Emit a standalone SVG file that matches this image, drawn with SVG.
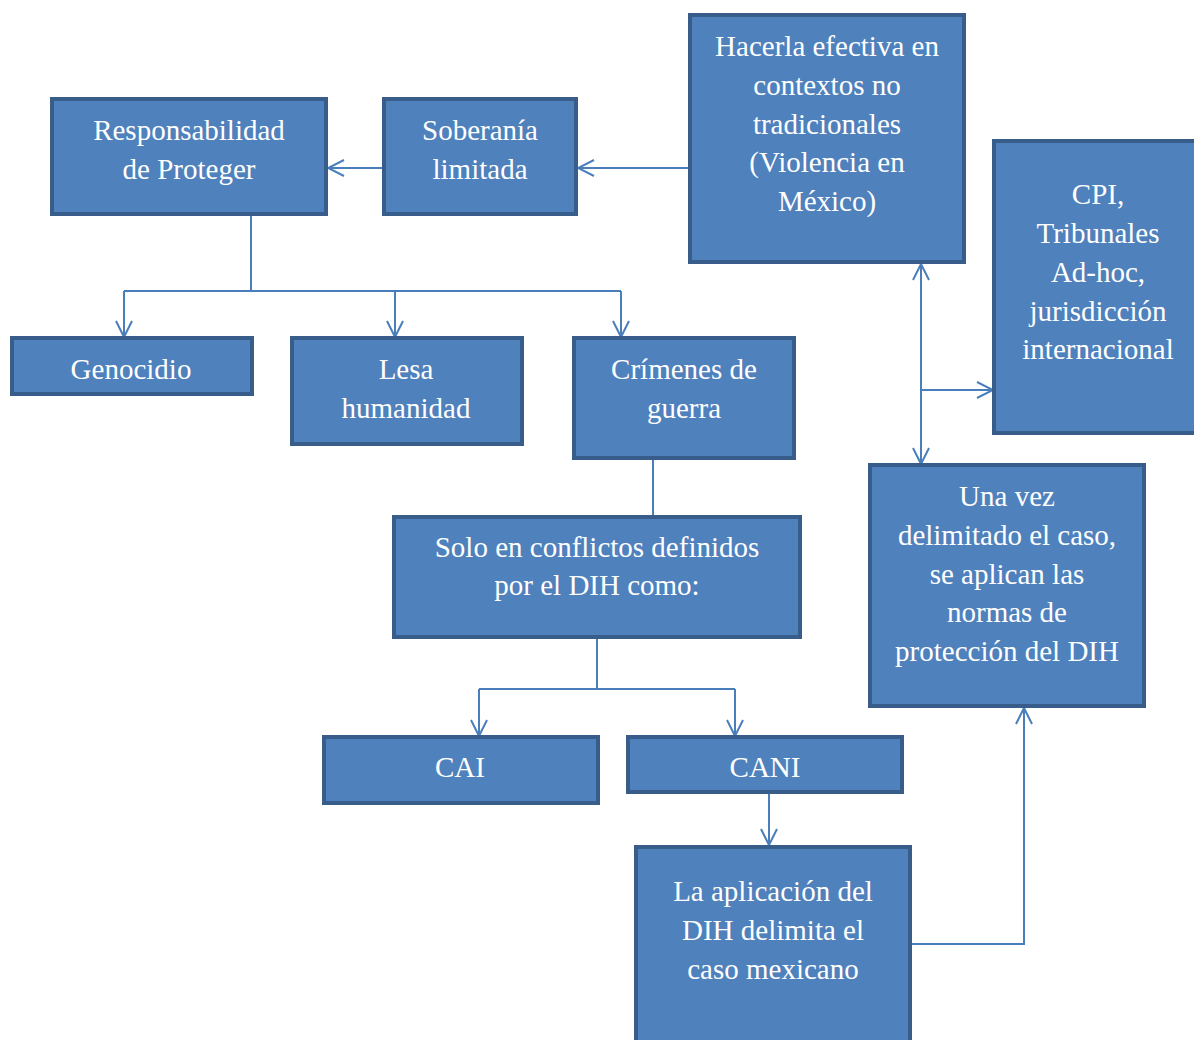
<svg xmlns="http://www.w3.org/2000/svg" width="1194" height="1040" viewBox="0 0 1194 1040">
<style>
.box{fill:#4f81bd;stroke:#385d8a;stroke-width:4;}
.t{font-family:"Liberation Serif","Times New Roman",serif;font-size:29px;fill:#ffffff;text-anchor:middle;}
.c{fill:none;stroke:#4a7ebb;stroke-width:2;}
</style>
<defs>
<marker id="a" viewBox="0 0 20 20" refX="18" refY="10" markerWidth="20" markerHeight="20" markerUnits="userSpaceOnUse" orient="auto-start-reverse">
<path d="M2,2 L18,10 L2,18" fill="none" stroke="#4a7ebb" stroke-width="2"/>
</marker>
</defs>
<rect width="1194" height="1040" fill="#ffffff"/>
<g id="connectors">
<line class="c" x1="384" y1="168" x2="328" y2="168" marker-end="url(#a)"/>
<line class="c" x1="690" y1="168" x2="578" y2="168" marker-end="url(#a)"/>
<polyline class="c" points="251,214 251,291"/>
<line class="c" x1="124" y1="291" x2="621" y2="291"/>
<line class="c" x1="124" y1="291" x2="124" y2="337" marker-end="url(#a)"/>
<line class="c" x1="395" y1="291" x2="395" y2="337" marker-end="url(#a)"/>
<line class="c" x1="621" y1="291" x2="621" y2="337" marker-end="url(#a)"/>
<line class="c" x1="653" y1="460" x2="653" y2="515"/>
<line class="c" x1="597" y1="637" x2="597" y2="689"/>
<line class="c" x1="479" y1="689" x2="735" y2="689"/>
<line class="c" x1="479" y1="689" x2="479" y2="736" marker-end="url(#a)"/>
<line class="c" x1="735" y1="689" x2="735" y2="736" marker-end="url(#a)"/>
<line class="c" x1="769" y1="794" x2="769" y2="845" marker-end="url(#a)"/>
<polyline class="c" points="910,944 1024,944 1024,708" marker-end="url(#a)"/>
<line class="c" x1="921" y1="264" x2="921" y2="464" marker-start="url(#a)" marker-end="url(#a)"/>
<line class="c" x1="921" y1="390" x2="993" y2="390" marker-end="url(#a)"/>
</g>
<g id="n1"><rect class="box" x="52" y="99" width="274" height="115"/>
<text class="t" x="189" y="140">Responsabilidad</text><text class="t" x="189" y="179">de Proteger</text></g>
<g id="n2"><rect class="box" x="384" y="99" width="192" height="115"/>
<text class="t" x="480" y="140">Soberanía</text><text class="t" x="480" y="179">limitada</text></g>
<g id="n3"><rect class="box" x="690" y="15" width="274" height="247"/>
<text class="t" x="827" y="56">Hacerla efectiva en</text><text class="t" x="827" y="95">contextos no</text><text class="t" x="827" y="134">tradicionales</text><text class="t" x="827" y="172">(Violencia en</text><text class="t" x="827" y="211">México)</text></g>
<g id="n4"><rect class="box" x="994" y="141" width="210" height="292"/>
<text class="t" x="1098" y="204">CPI,</text><text class="t" x="1098" y="243">Tribunales</text><text class="t" x="1098" y="282">Ad-hoc,</text><text class="t" x="1098" y="321">jurisdicción</text><text class="t" x="1098" y="359">internacional</text></g>
<g id="n5"><rect class="box" x="12" y="338" width="240" height="56"/>
<text class="t" x="131" y="379">Genocidio</text></g>
<g id="n6"><rect class="box" x="292" y="338" width="230" height="106"/>
<text class="t" x="406" y="379">Lesa</text><text class="t" x="406" y="418">humanidad</text></g>
<g id="n7"><rect class="box" x="574" y="338" width="220" height="120"/>
<text class="t" x="684" y="379">Crímenes de</text><text class="t" x="684" y="418">guerra</text></g>
<g id="n8"><rect class="box" x="394" y="517" width="406" height="120"/>
<text class="t" x="597" y="557">Solo en conflictos definidos</text><text class="t" x="597" y="595">por el DIH como:</text></g>
<g id="n9"><rect class="box" x="324" y="737" width="274" height="66"/>
<text class="t" x="460" y="777">CAI</text></g>
<g id="n10"><rect class="box" x="628" y="737" width="274" height="55"/>
<text class="t" x="765" y="777">CANI</text></g>
<g id="n11"><rect class="box" x="636" y="847" width="274" height="200"/>
<text class="t" x="773" y="901">La aplicación del</text><text class="t" x="773" y="940">DIH delimita el</text><text class="t" x="773" y="979">caso mexicano</text></g>
<g id="n12"><rect class="box" x="870" y="465" width="274" height="241"/>
<text class="t" x="1007" y="506">Una vez</text><text class="t" x="1007" y="545">delimitado el caso,</text><text class="t" x="1007" y="584">se aplican las</text><text class="t" x="1007" y="622">normas de</text><text class="t" x="1007" y="661">protección del DIH</text></g>
</svg>
